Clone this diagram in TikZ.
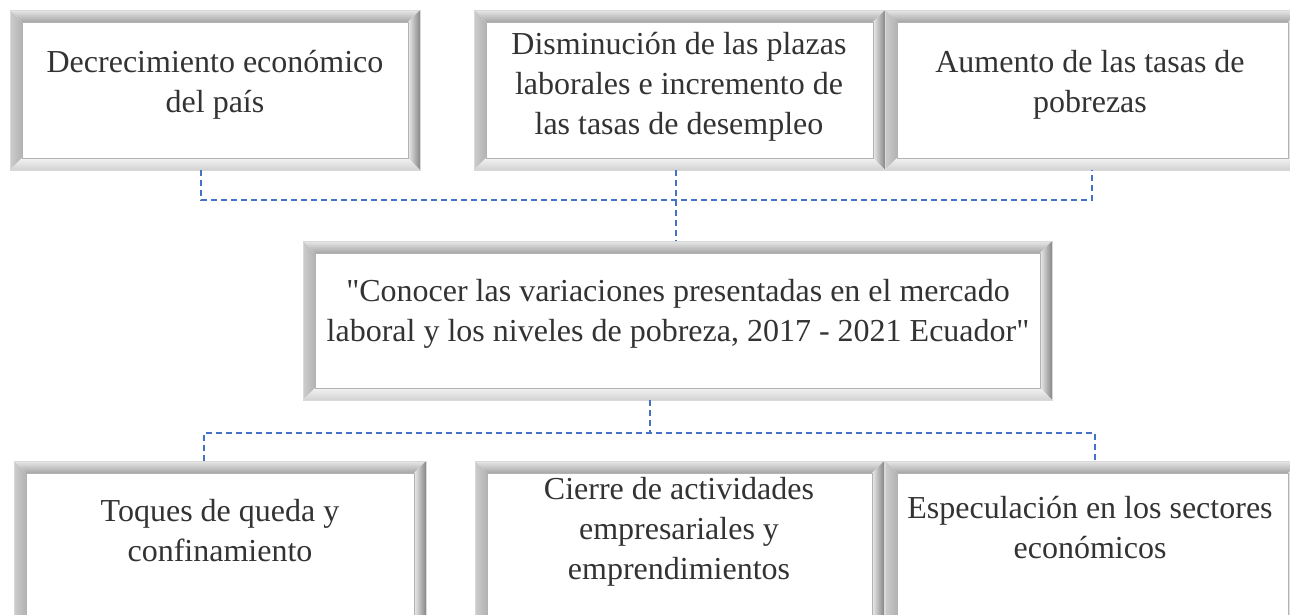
\documentclass[tikz,border=0pt]{standalone}
\usepackage{fontspec}
\setmainfont{Liberation Serif}
\newfontfamily\boxfont{Liberation Serif}
\usetikzlibrary{calc}
\definecolor{txt}{HTML}{333333}
\definecolor{connblue}{HTML}{4472C4}
\tikzset{
  framebox/.style={rectangle, inner sep=0pt, outer sep=0pt},
  labeltext/.style={align=center, text=txt, font=\fontsize{32}{40}\boxfont, inner sep=0pt},
  connector/.style={draw=connblue, dash pattern=on 6pt off 4pt, line width=1.4pt},
}
\newcommand\bevelbox[5]{%
  \node[framebox, minimum width={#4pt-#2pt}, minimum height={#5pt-#3pt}] (#1) at ({(#2+#4)/2},{(#3+#5)/2}) {};
  \coordinate (#1-onw) at (#1.north west);
  \coordinate (#1-one) at (#1.north east);
  \coordinate (#1-osw) at (#1.south west);
  \coordinate (#1-ose) at (#1.south east);
  \coordinate (#1-inw) at ($(#1.north west)+(12,12)$);
  \coordinate (#1-ine) at ($(#1.north east)+(-12,12)$);
  \coordinate (#1-isw) at ($(#1.south west)+(12,-12)$);
  \coordinate (#1-ise) at ($(#1.south east)+(-12,-12)$);
  \shade[top color=gray!18, middle color=gray!5, bottom color=gray!70] (#1-onw) -- (#1-one) -- (#1-ine) -- (#1-inw) -- cycle;
  \shade[left color=gray!40, middle color=gray!5, right color=gray!60] (#1-onw) -- (#1-inw) -- (#1-isw) -- (#1-osw) -- cycle;
  \shade[left color=gray!15, middle color=gray!45, right color=gray!95] (#1-one) -- (#1-ine) -- (#1-ise) -- (#1-ose) -- cycle;
  \shade[top color=gray!10, bottom color=gray!35] (#1-osw) -- (#1-isw) -- (#1-ise) -- (#1-ose) -- cycle;
  \filldraw[fill=white, draw=gray!60, line width=1pt] (#1-inw) rectangle (#1-ise);
  \draw[gray!30, line width=0.6pt] (#1-onw) rectangle (#1-ose);
}
\begin{document}
\begin{tikzpicture}[x=1pt, y=-1pt]
\useasboundingbox (0,0) rectangle (1290,614);
\clip (0,0) rectangle (1290,614);
\fill[white] (0,0) rectangle (1290,614);

\bevelbox{T1}{10}{10}{420}{170}
\bevelbox{T2}{474}{10}{885}{170}
\bevelbox{T3}{885}{10}{1300}{170}
\bevelbox{M}{303}{241}{1052}{400}
\bevelbox{B1}{14}{461}{426}{630}
\bevelbox{B2}{475}{461}{884}{630}
\bevelbox{B3}{885}{461}{1300}{630}

\node[labeltext] (T1t) at (215,85) {Decrecimiento económico\\del país};
\node[labeltext] (T2t) at (679,87) {Disminución de las plazas\\laborales e incremento de\\las tasas de desempleo};
\node[labeltext] (T3t) at (1090,85) {Aumento de las tasas de\\pobrezas};
\node[labeltext] (Mt) at (678,314) {"Conocer las variaciones presentadas en el mercado\\laboral y los niveles de pobreza, 2017 - 2021 Ecuador"};
\node[labeltext] (B1t) at (220,531) {Toques de queda y\\confinamiento};
\node[labeltext] (B2t) at (679,532) {Cierre de actividades\\empresariales y\\emprendimientos};
\node[labeltext] (B3t) at (1090,528) {Especulación en los sectores\\económicos};

\coordinate (j1) at (201,200);
\coordinate (j2) at (676,200);
\coordinate (j3) at (1092,200);
\coordinate (k1) at (204,433);
\coordinate (k2) at (650,433);
\coordinate (k3) at (1095,433);

\draw[connector] (T1.south -| j1) -- (j1) -- (j3) -- (T3.south -| j3);
\draw[connector] (T2.south -| j2) -- (M.north -| j2);
\draw[connector] (M.south -| k2) -- (k2);
\draw[connector] (B1.north -| k1) -- (k1) -- (k3) -- (B3.north -| k3);
\end{tikzpicture}
\end{document}
